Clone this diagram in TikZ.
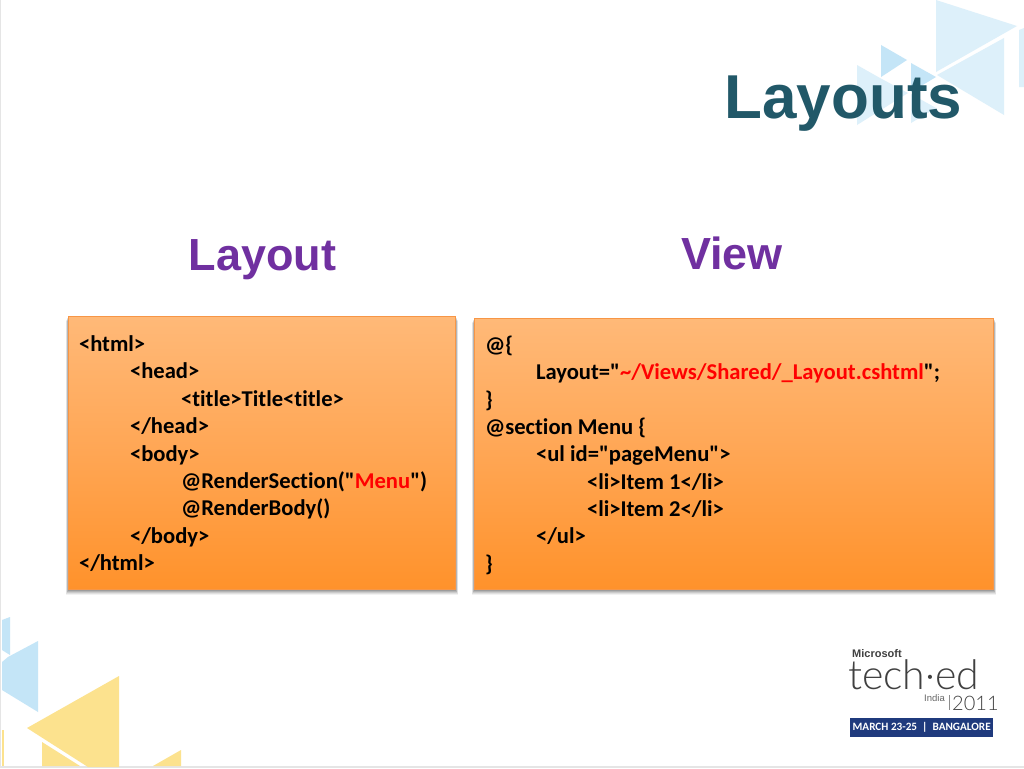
\documentclass[tikz,border=0pt]{standalone}
\usepackage{fontspec}
\setmainfont{Carlito}[Ligatures={TeXOff,NoCommon}]
\newfontfamily\arialf{Liberation Sans}
\newfontfamily\logof{Lato Light}
\definecolor{titleblue}{HTML}{215868}
\definecolor{headpurple}{HTML}{7030A0}
\definecolor{lightblue}{HTML}{DDF0FA}
\definecolor{midblue}{HTML}{C4E5F7}
\definecolor{softyellow}{HTML}{FCE28E}
\definecolor{logonavy}{HTML}{1F3A7D}
\tikzset{
  x=1pt,y=-1pt,
  codebox/.style={draw=#1,line width=0.8pt,top color=boxtop,bottom color=boxbot,middle color=boxmid},
  codeline/.style={anchor=base west,inner sep=0pt,outer sep=0pt,font=\fontsize{22.6}{26}\selectfont\bfseries,text=black},
  bighead/.style={anchor=base,inner sep=0pt,font=\arialf\fontsize{45}{50}\selectfont\bfseries,text=headpurple},
  logotext/.style={anchor=base west,inner sep=0pt,text=#1},
}
\definecolor{boxtop}{HTML}{FFB978}
\definecolor{boxmid}{HTML}{FFA654}
\definecolor{boxbot}{HTML}{FF922B}
\definecolor{boxedge}{HTML}{F79646}
\newcommand{\menu}[1]{\textcolor{red}{#1}}
\begin{document}
\begin{tikzpicture}
\useasboundingbox (0,0) rectangle (1024,768);
\fill[white] (0,0) rectangle (1024,768);
\draw[black!10,line width=1pt] (0.5,0) -- (0.5,768);
\fill[black!10] (0,766) rectangle (1024,768);
% top right decoration
\fill[lightblue] (936,0) -- (1017,26) -- (936,72) -- cycle;
\fill[lightblue] (1004,38) -- (937,75) -- (1004,115) -- cycle;
\fill[lightblue] (1019,30) -- (1024,28) -- (1024,87) -- (1019,87) -- cycle;
\fill[midblue] (881,45) -- (907,60) -- (881,77) -- cycle;
\fill[midblue] (911,63) -- (936,77) -- (911,92) -- cycle;
\fill[lightblue] (857,65) -- (880,78) -- (908,93) -- (857,125) -- cycle;
\fill[lightblue] (911,94) -- (936,108) -- (911,123) -- cycle;
% bottom left decoration
\fill[midblue] (2,620) -- (10,617) -- (10,655) -- (2,650) -- cycle;
\fill[midblue] (38,641) -- (38,712) -- (2,690) -- (2,662) -- (8,657) -- cycle;
\fill[softyellow] (119,676) -- (27,728) -- (88,767) -- (119,767) -- cycle;
\fill[softyellow] (42,742) -- (42,766) -- (80,766) -- cycle;
\fill[softyellow] (2,730) -- (4,730) -- (4,766) -- (2,766) -- cycle;
\fill[softyellow] (181,750) -- (181,766) -- (153,766) -- cycle;
% titles
\node[anchor=base east,inner sep=0pt,font=\arialf\fontsize{62}{66}\selectfont\bfseries,text=titleblue] (title) at (962.5,118) {Layouts};
\node[bighead] (layouthead) at (262.5,270) {Layout};
\node[bighead] (viewhead) at (732,269) {View};
% shadows
\foreach \i/\o in {5/0.05,4/0.07,3/0.09,2/0.11,1/0.13}{
  \fill[black,opacity=\o] (68-\i*0.4,316+\i) rectangle (456+\i*0.4,590+\i*0.9);
  \fill[black,opacity=\o] (474-\i*0.4,318+\i) rectangle (994+\i*0.4,590+\i*0.9);
}
% boxes
\node[codebox=boxedge,minimum width=387pt,minimum height=273pt,inner sep=0pt,outer sep=0pt,anchor=north west] (leftbox) at (68,316) {};
\node[codebox=boxedge,minimum width=519pt,minimum height=271pt,inner sep=0pt,outer sep=0pt,anchor=north west] (rightbox) at (474,318) {};
% left code
\node[codeline] (l1) at (79,351.5) {<html>};
\node[codeline] (l2) at (130,378.9) {<head>};
\node[codeline] (l3) at (181,406.3) {<title>Title<title>};
\node[codeline] (l4) at (130,433.7) {</head>};
\node[codeline] (l5) at (130,461.1) {<body>};
\node[codeline] (l6) at (181,488.5) {@RenderSection("\menu{Menu}")};
\node[codeline] (l7) at (181,515.9) {@RenderBody()};
\node[codeline] (l8) at (130,543.3) {</body>};
\node[codeline] (l9) at (79,570.2) {</html>};
% right code
\node[codeline] (r1) at (485,352.5) {@\{};
\node[codeline] (r2) at (536,379.9) {Layout="\menu{\textasciitilde/Views/Shared/\_Layout.cshtml}";};
\node[codeline] (r3) at (485,407.3) {\}};
\node[codeline] (r4) at (485,434.7) {@section Menu \{};
\node[codeline] (r5) at (536,461.5) {<ul id="pageMenu">};
\node[codeline] (r6) at (587,489) {<li>Item 1</li>};
\node[codeline] (r7) at (587,516) {<li>Item 2</li>};
\node[codeline] (r8) at (536,543.5) {</ul>};
\node[codeline] (r9) at (485,571) {\}};
% logo
\node[logotext=black!75,font=\arialf\fontsize{11}{12}\selectfont\bfseries] (ms) at (852,657) {Microsoft};
\node[logotext=black!75,font=\logof\fontsize{41}{44}\selectfont] (teched) at (848,689) {tech·ed};
\node[logotext=black!60,font=\arialf\fontsize{9.5}{10}\selectfont] (india) at (924,701) {India};
\fill[black!45] (949,695) rectangle (950,710);
\node[logotext=black!75,font=\logof\fontsize{20}{25}\selectfont] (year) at (952,710) {2011};
\node[fill=logonavy,minimum width=143pt,minimum height=19pt,inner sep=0pt,anchor=north west,text=white,font=\fontsize{11.2}{12}\selectfont\bfseries] (banner) at (850,718) {MARCH 23-25~~|~~BANGALORE};
\end{tikzpicture}
\end{document}
